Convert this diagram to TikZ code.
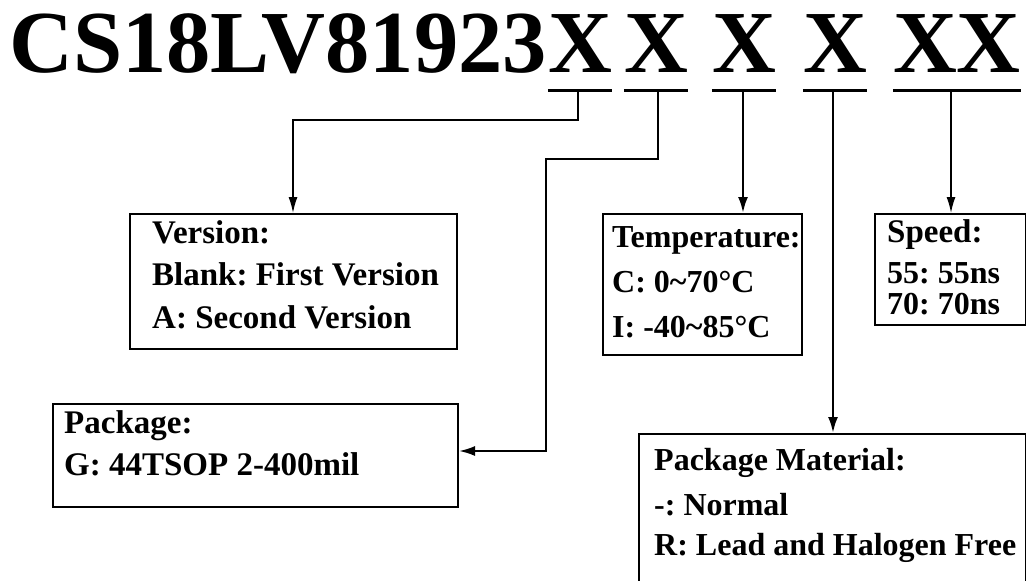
\documentclass[tikz,border=0pt]{standalone}
\usepackage{fontspec}
\setmainfont{Liberation Serif}
\usetikzlibrary{arrows.meta}
\frenchspacing
\begin{document}
\begin{tikzpicture}[x=1pt,y=-1pt,
  titletext/.style={font=\fontsize{88.5}{88.5}\selectfont\bfseries, inner sep=0pt},
  infobox/.style={draw, line width=2pt, anchor=north west, inner sep=0pt},
  txt/.style={font=\fontsize{33}{33}\selectfont\bfseries, anchor=base west, inner sep=0pt},
  smalltxt/.style={txt, font=\fontsize{32}{32}\selectfont\bfseries},
  ulne/.style={line width=3pt},
  thinarrow/.style={line width=1.5pt, -{Latex[length=16pt,width=9pt]}},
  thickarrow/.style={line width=2.5pt, -{Latex[length=16pt,width=10pt]}},
]
\useasboundingbox (0,0) rectangle (1026,581);
\begin{scope}
\clip (0,0) rectangle (1026,581);

% title
\node[titletext, anchor=base west] (pn) at (9,72) {CS18LV81923};
\node[titletext, anchor=base] (x1) at (580,72) {X};
\node[titletext, anchor=base] (x2) at (656,72) {X};
\node[titletext, anchor=base] (x3) at (744,72) {X};
\node[titletext, anchor=base] (x4) at (835,72) {X};
\node[titletext, anchor=base] (x5) at (957,72) {XX};

% underlines
\foreach \n in {x1,x2,x3,x4,x5}
  \draw[ulne] ([yshift=-18pt]\n.base west) -- ([yshift=-18pt]\n.base east);

\coordinate (c1) at (578,90);
\coordinate (c2) at (658,90);
\coordinate (c3) at (743,90);
\coordinate (c4) at (833,90);
\coordinate (c5) at (951,90);
\coordinate (v1) at (293,120);
\coordinate (p1) at (546,159);
\coordinate (p2) at (546,451);

% boxes
\node[infobox, minimum width=327pt, minimum height=135pt] (ver) at (129,213) {};
\node[txt] (ver1) at (152,243) {Version:};
\node[txt] (ver2) at (152,285) {Blank: First Version};
\node[txt] (ver3) at (152,328) {A: Second Version};

\node[infobox, minimum width=199pt, minimum height=141pt] (tmp) at (602,213) {};
\node[smalltxt] (tmp1) at (612,247) {Temperature:};
\node[smalltxt] (tmp2) at (612,292) {C: 0\textasciitilde 70°C};
\node[smalltxt] (tmp3) at (612,337) {I: -40\textasciitilde 85°C};

\node[infobox, minimum width=151pt, minimum height=111pt] (spd) at (874,213) {};
\node[txt] (spd1) at (887,242) {Speed:};
\node[txt, align=left, font=\fontsize{32}{31}\selectfont\bfseries] (spd2) at (887,314) {55: 55ns\\70: 70ns};

\node[infobox, minimum width=405pt, minimum height=103pt] (pkg) at (52,403) {};
\node[txt] (pkg1) at (64,433) {Package:};
\node[txt] (pkg2) at (64,475) {G: 44TSOP 2-400mil};

\node[infobox, minimum width=387pt, minimum height=200pt] (pm) at (638,433) {};
\node[smalltxt] (pm1) at (654,470) {Package Material:};
\node[smalltxt] (pm2) at (654,515) {-: Normal};
\node[smalltxt] (pm3) at (654,555) {R: Lead and Halogen Free};

% connectors
\draw[thinarrow] (c1) |- (v1) -- (v1 |- ver.north);
\draw[line width=2pt, -{Latex[length=16pt,width=10pt]}] (c2) |- (p1) -- (p2) -- (pkg.east |- p2);
\draw[thickarrow] (c3) -- (c3 |- tmp.north);
\draw[thickarrow] (c4) -- (c4 |- pm.north);
\draw[thinarrow] (c5) -- (c5 |- spd.north);
\end{scope}
\end{tikzpicture}
\end{document}
